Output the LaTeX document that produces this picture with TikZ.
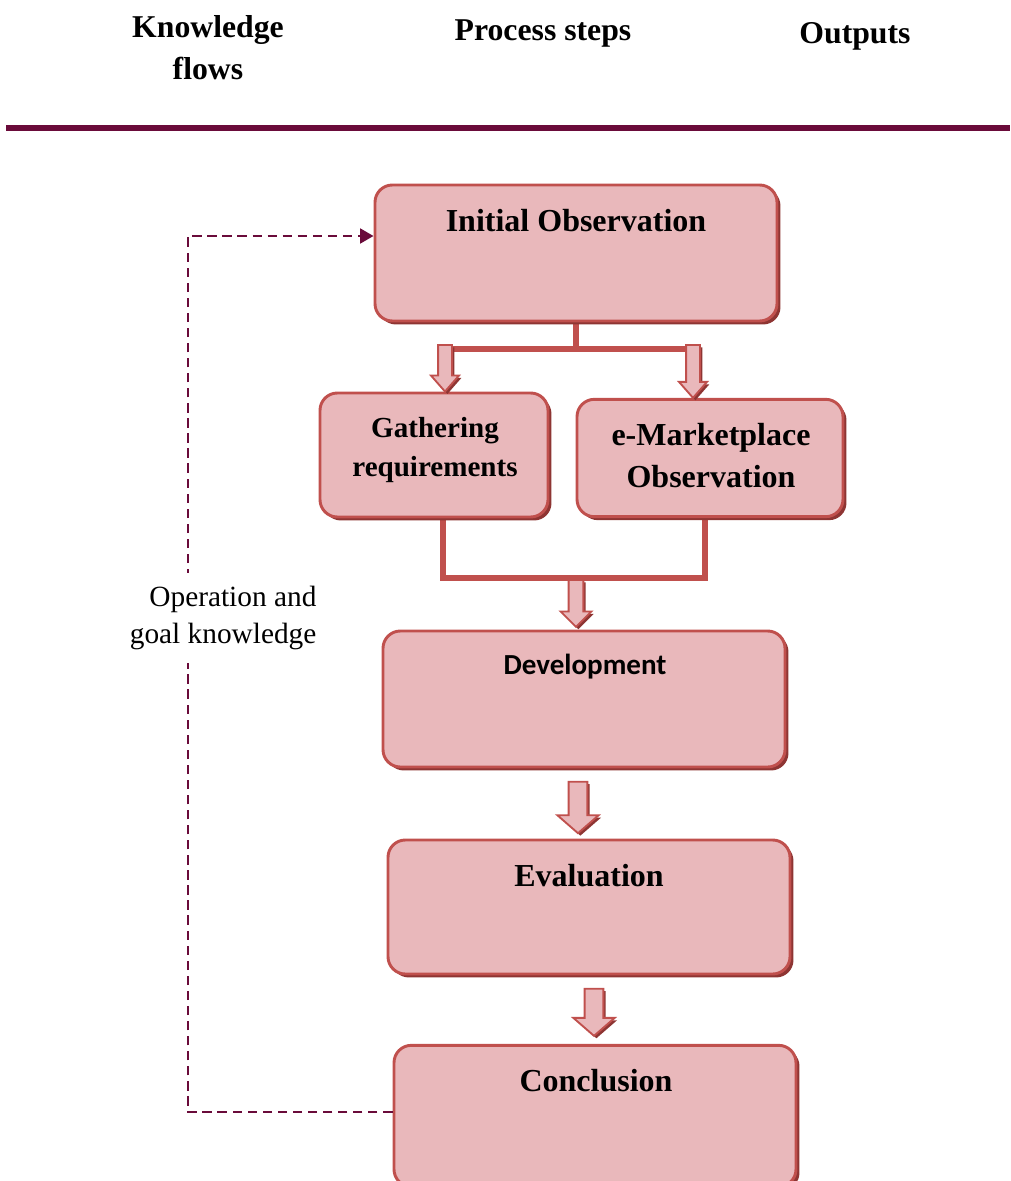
\documentclass[tikz,border=0pt]{standalone}
\usepackage{fontspec}
\setmainfont{Liberation Serif}
\newfontfamily\calibrifont{Carlito}
\usetikzlibrary{calc,shadows,arrows.meta}

\definecolor{boxfill}{HTML}{E9B8BB}
\definecolor{boxline}{HTML}{C0504D}
\definecolor{boxshadow}{HTML}{8E3533}
\definecolor{maroon}{HTML}{6A0B3A}

\tikzset{
  procbox/.style={draw=boxline, fill=boxfill, line width=2.2pt,
    rounded corners=13pt, inner sep=0pt,
    drop shadow={shadow xshift=2.6pt, shadow yshift=-2.6pt, fill=boxshadow, opacity=1}},
  boldtitle/.style={font=\bfseries\fontsize{24}{31.5}\selectfont, align=center},
  heading/.style={font=\bfseries\fontsize{23.8}{31.5}\selectfont, align=center},
  bar/.style={draw=boxline, line width=4.6pt, line join=miter},
  arrowshape/.style={draw=boxline, fill=boxfill, line width=1.4pt, line join=miter,
    drop shadow={shadow xshift=1.8pt, shadow yshift=-1.8pt, fill=boxshadow, opacity=1}},
  feedback/.style={draw=maroon, line width=1.9pt, dash pattern=on 7pt off 4.3pt,
    -{Triangle[length=10pt, width=11pt]}},
}

% hollow block arrow: start, tip, shaft half width, head half width, head length
\newcommand\hollowarrow[5]{%
  \path[arrowshape] let \p1=#1, \p2=#2 in
    (\x1-#3,\y1) -- (\x1+#3,\y1) -- (\x1+#3,\y2+#5) -- (\x1+#4,\y2+#5)
    -- (\x1,\y2) -- (\x1-#4,\y2+#5) -- (\x1-#3,\y2+#5) -- cycle;}

\begin{document}
\begin{tikzpicture}[x=0.75pt, y=-0.75pt]
  \useasboundingbox (0,0) rectangle (1010,1181);
  \clip (0,0) rectangle (1010,1181);

  % column headings and rule
  \node[heading] (hk) at (208,48) {Knowledge\\flows};
  \node[heading] (hp) at (543,33) {Process steps};
  \node[heading] (ho) at (855,36) {Outputs};
  \coordinate (ruleL) at (6,128);
  \coordinate (ruleR) at (1010,128);
  \draw[maroon, line width=5pt] (ruleL) -- (ruleR);

  % junction points of the connectors
  \coordinate (barL) at (445,349);
  \coordinate (barR) at (693,349);
  \coordinate (joinL) at (443,578);
  \coordinate (joinR) at (705,578);
  \coordinate (joinM) at (576,578);
  \coordinate (fbk) at (188,236);

  % process boxes (positions only)
  \path (576,253) coordinate (cio)
        (434,455) coordinate (cgr)
        (710,458) coordinate (cem)
        (584,699) coordinate (cdv)
        (589,907) coordinate (cev)
        (595,1116) coordinate (cco);

  % branching connectors drawn under the boxes
  \draw[bar] (cio) -- (cio |- barL);
  \draw[bar] (barL) -- (barR);
  \draw[bar] (joinL |- cgr) -- (joinL) -- (joinR) -- (joinR |- cem);

  \node[procbox, minimum width=301.5pt, minimum height=102pt] (io) at (cio) {};
  \node[procbox, minimum width=171pt, minimum height=93pt] (gr) at (cgr) {};
  \node[procbox, minimum width=199.5pt, minimum height=88pt] (em) at (cem) {};
  \node[procbox, minimum width=301.5pt, minimum height=102pt] (dv) at (cdv) {};
  \node[procbox, minimum width=301.5pt, minimum height=100.5pt] (ev) at (cev) {};
  \node[procbox, minimum width=301.5pt, minimum height=106pt] (co) at (cco) {};

  % box titles
  \node[boldtitle] (tio) at (576,221) {Initial Observation};
  \node[font=\bfseries\fontsize{21.8}{29.2}\selectfont, align=center] (tgr) at (435,450) {Gathering\\requirements};
  \node[boldtitle] (tem) at (711,456) {e-Marketplace\\Observation};
  \node[font=\calibrifont\bfseries\fontsize{21.8}{26}\selectfont] (tdv) at (585,667) {Development};
  \node[boldtitle] (tev) at (589,876) {Evaluation};
  \node[boldtitle] (tco) at (596,1081) {Conclusion};

  % hollow block arrows
  \hollowarrow{([yshift=3pt]barL)}{(gr.north -| barL)}{5.2pt}{10.5pt}{12pt}
  \hollowarrow{([yshift=3pt]barR)}{(em.north -| barR)}{5.2pt}{10.5pt}{12pt}
  \hollowarrow{([yshift=-1.5pt]joinM)}{([yshift=2pt]dv.north -| joinM)}{5.5pt}{11.5pt}{11.5pt}
  \hollowarrow{([yshift=-10pt]dv.south -| 578,0)}{([yshift=4pt]ev.north -| 578,0)}{7pt}{15.5pt}{13.5pt}
  \hollowarrow{([yshift=-10pt]ev.south -| 594,0)}{([yshift=6pt]co.north -| 594,0)}{7pt}{15.5pt}{13.5pt}

  % knowledge feedback loop
  \draw[feedback] ([yshift=3pt]co.west) -| (fbk) -- (fbk -| io.west);
  \node[fill=white, align=right, anchor=east, inner xsep=1pt, inner ysep=10pt,
        font=\fontsize{22}{27.8}\selectfont] (lbl) at (318,618) {Operation and\\goal knowledge};
\end{tikzpicture}
\end{document}
